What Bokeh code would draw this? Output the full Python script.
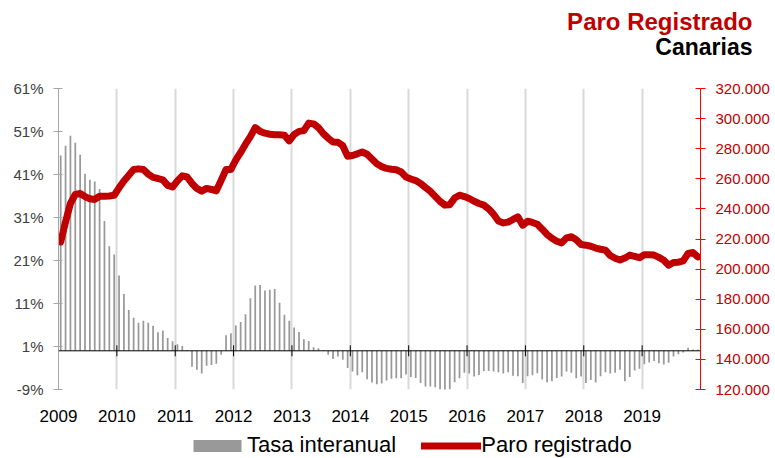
import math
from bokeh.plotting import figure
from bokeh.layouts import column
from bokeh.models import (Range1d, LinearAxis, FixedTicker, PrintfTickFormatter, Span,
                          Label, Legend, LegendItem, ColumnDataSource)
from bokeh.embed import file_html
from bokeh.resources import INLINE

FONT = "Liberation Sans"
RED_DARK = "#c00000"
BAR_GRAY = "#999999"

# ---------------- data ----------------
start_year = 2009
year_ticks = list(range(2009, 2021))
year_labels = [str(y) for y in range(2009, 2020)]
pct_ticks = [-9, 1, 11, 21, 31, 41, 51, 61]
paro_ticks = [120000, 140000, 160000, 180000, 200000, 220000, 240000, 260000, 280000, 300000, 320000]

tasa_2009 = [45.4, 47.7, 50.0, 48.4, 45.6, 41.2, 39.8, 39.4, 37.6, 30.2, 24.3, 22.4]
tasa_2010 = [17.5, 13.2, 9.5, 7.7, 6.5, 7.0, 6.5, 5.8, 4.3, 4.7, 3.0, 2.2]
tasa_2011 = [1.5, 1.1, 0.2, -3.7, -4.4, -5.3, -3.5, -3.3, -3.0, -0.9, 3.6, 4.1]
tasa_2012 = [5.9, 6.7, 8.5, 12.2, 15.2, 15.3, 14.0, 14.2, 14.4, 11.2, 8.4, 7.0]
tasa_2013 = [5.4, 4.4, 2.7, 2.3, 0.8, 0.6, 0.2, -0.9, -1.9, -1.3, -2.1, -4.0]
tasa_2014 = [-4.8, -5.7, -5.0, -6.6, -7.4, -7.8, -7.6, -6.9, -6.5, -6.4, -6.4, -5.5]
tasa_2015 = [-6.1, -6.3, -7.5, -8.3, -8.3, -8.5, -9.0, -9.1, -9.0, -7.3, -6.4, -5.1]
tasa_2016 = [-5.3, -6.0, -5.6, -4.7, -4.7, -4.8, -5.0, -5.3, -5.0, -5.8, -5.9, -7.5]
tasa_2017 = [-5.9, -5.7, -5.2, -6.7, -7.3, -7.1, -6.3, -6.0, -4.8, -5.1, -6.4, -6.0]
tasa_2018 = [-7.5, -6.8, -7.4, -5.9, -5.0, -5.3, -5.1, -4.4, -7.1, -6.1, -4.6, -4.2]
tasa_2019 = [-3.1, -2.7, -2.4, -2.9, -3.2, -2.8, -1.3, -0.8, -0.4, 0.7, 0.3, 0.3]

paro_2009 = [218000, 231400, 243600, 249600, 250200, 248200, 246700, 246300, 248400, 248400, 248600, 249100]
paro_2010 = [254000, 258600, 262400, 266200, 266600, 266200, 263100, 260900, 260200, 259300, 255600, 254600]
paro_2011 = [258600, 262000, 261200, 256900, 253600, 251800, 253600, 252900, 252000, 259000, 266200, 266200]
paro_2012 = [272500, 277500, 283000, 288000, 294000, 291500, 290300, 289600, 289300, 289200, 289000, 285200]
paro_2013 = [289500, 291500, 292000, 297000, 296500, 294000, 290000, 287000, 284500, 284300, 282000, 275000]
paro_2014 = [275500, 276600, 277800, 276300, 273200, 270000, 268100, 266900, 266400, 266000, 264500, 261200]
paro_2015 = [259900, 258800, 256900, 254200, 251700, 248300, 245000, 242500, 242800, 247200, 249100, 248200]
paro_2016 = [246900, 245100, 243600, 242500, 240000, 236500, 232000, 230700, 231200, 233000, 234700, 229200]
paro_2017 = [231800, 231000, 229800, 226500, 223000, 220500, 218500, 217400, 220800, 221500, 219500, 216300]
paro_2018 = [215900, 215200, 214000, 213200, 212600, 209000, 207200, 206000, 207300, 209300, 208500, 207600]
paro_2019 = [209600, 209600, 209300, 207800, 205900, 202600, 204400, 204600, 205500, 210400, 211000, 208100]

tasa = (tasa_2009 + tasa_2010 + tasa_2011 + tasa_2012 + tasa_2013 + tasa_2014 +
        tasa_2015 + tasa_2016 + tasa_2017 + tasa_2018 + tasa_2019)
paro = (paro_2009 + paro_2010 + paro_2011 + paro_2012 + paro_2013 + paro_2014 +
        paro_2015 + paro_2016 + paro_2017 + paro_2018 + paro_2019)
month_x = [start_year + (i + 0.45) / 12 for i in range(len(tasa))]

src = ColumnDataSource(data=dict(x=month_x, tasa=tasa, paro=paro))

W = 775

# ---------------- header (titles) ----------------
head = figure(width=W, height=78, x_range=Range1d(0, W), y_range=Range1d(78, 0),
              x_axis_type=None, y_axis_type=None, output_backend="svg", toolbar_location=None,
              min_border=0, outline_line_color=None, border_fill_color="white",
              background_fill_color="white", frame_align=False)
head.grid.visible = False
head.add_layout(Label(x=752, y=21, text="Paro Registrado", text_align="right",
                      text_baseline="alphabetic", text_font=FONT, text_font_style="bold",
                      text_font_size="24px", text_color=RED_DARK))
head.add_layout(Label(x=752, y=46, text="Canarias", text_align="right",
                      text_baseline="alphabetic", text_font=FONT, text_font_style="bold",
                      text_font_size="23px", text_color="black"))

# ---------------- main chart ----------------
p = figure(width=W, height=347, x_range=Range1d(2009, 2020), y_range=Range1d(-9, 61),
           output_backend="svg", toolbar_location=None,
           min_border_left=58, min_border_right=75, min_border_top=10, min_border_bottom=36,
           outline_line_color=None, background_fill_color="white", border_fill_color="white",
           frame_align=False)

# x axis (labels only, at the bottom)
p.xaxis.ticker = FixedTicker(ticks=year_ticks[:-1])
p.xaxis.major_label_overrides = {y: lab for y, lab in zip(year_ticks[:-1], year_labels)}
p.xaxis.axis_line_color = None
p.xaxis.major_tick_line_color = None
p.xaxis.minor_tick_line_color = None
p.xaxis.major_label_standoff = 14
p.xaxis.major_label_text_font = FONT
p.xaxis.major_label_text_font_size = "17px"
p.xaxis.major_label_text_color = "black"

# left axis
p.yaxis.ticker = FixedTicker(ticks=pct_ticks)
p.yaxis.formatter = PrintfTickFormatter(format="%d%%")
p.yaxis.axis_line_color = "#a6a6a6"
p.yaxis.major_tick_line_color = "#a6a6a6"
p.yaxis.major_tick_in = 4
p.yaxis.major_tick_out = 5
p.yaxis.minor_tick_line_color = None
p.yaxis.major_label_standoff = 10
p.yaxis.major_label_text_font = FONT
p.yaxis.major_label_text_font_size = "15px"
p.yaxis.major_label_text_color = "#404040"

# right axis
p.extra_y_ranges = {"paro": Range1d(120000, 320000)}
rax = LinearAxis(y_range_name="paro", ticker=FixedTicker(ticks=paro_ticks),
                 major_label_overrides={t: f"{t:,}".replace(",", ".") for t in paro_ticks})
rax.axis_line_color = "#ff0000"
rax.major_tick_line_color = "#ff0000"
rax.major_tick_in = 5
rax.major_tick_out = 5
rax.minor_tick_line_color = None
rax.major_label_standoff = 10
rax.major_label_text_font = FONT
rax.major_label_text_font_size = "15px"
rax.major_label_text_color = RED_DARK
p.add_layout(rax, "right")

# grid
p.xgrid.ticker = FixedTicker(ticks=year_ticks[1:-1])
p.xgrid.grid_line_color = "#d9d9d9"
p.xgrid.grid_line_width = 2
p.ygrid.grid_line_color = None

# bars
p.vbar(x="x", top="tasa", bottom=0, width=0.36 / 12, source=src,
       fill_color=BAR_GRAY, line_color=None)

# zero axis line with year ticks
p.add_layout(Span(location=0, dimension="width", line_color="black", line_width=1))
p.scatter(x=year_ticks, y=[0] * len(year_ticks), marker="dash", angle=math.pi / 2,
          size=11, line_color="black", line_width=1)

# line
p.line(x="x", y="paro", y_range_name="paro", source=src, line_color=RED_DARK,
       line_width=7, line_cap="round", line_join="round")

# ---------------- legend strip ----------------
# the legend's renderers use the same data; it lies outside this strip's view,
# so only the legend swatches show
leg = figure(width=W, height=33, x_range=Range1d(0, 1), y_range=Range1d(0, 1),
             x_axis_type=None, y_axis_type=None, output_backend="svg", toolbar_location=None,
             min_border=0, outline_line_color=None, border_fill_color="white",
             background_fill_color="white", frame_align=False)
leg.grid.visible = False
lr_bar = leg.vbar(x="x", top="tasa", bottom=0, width=0.36 / 12, source=src,
                  fill_color=BAR_GRAY, line_color=None)
lr_line = leg.line(x="x", y="paro", source=src, line_color=RED_DARK, line_width=7,
                   line_cap="round")
legend = Legend(items=[LegendItem(label="Tasa interanual", renderers=[lr_bar]),
                       LegendItem(label="Paro registrado", renderers=[lr_line])],
                orientation="horizontal", location=(187, 0),
                glyph_width=60, glyph_height=15, label_standoff=0, spacing=25,
                padding=0, margin=0, border_line_color=None, background_fill_alpha=0,
                label_text_font=FONT, label_text_font_size="22px", label_text_color="black")
leg.add_layout(legend)

layout = column(head, p, leg, spacing=0)
open("out.html", "w").write(file_html(layout, INLINE))
